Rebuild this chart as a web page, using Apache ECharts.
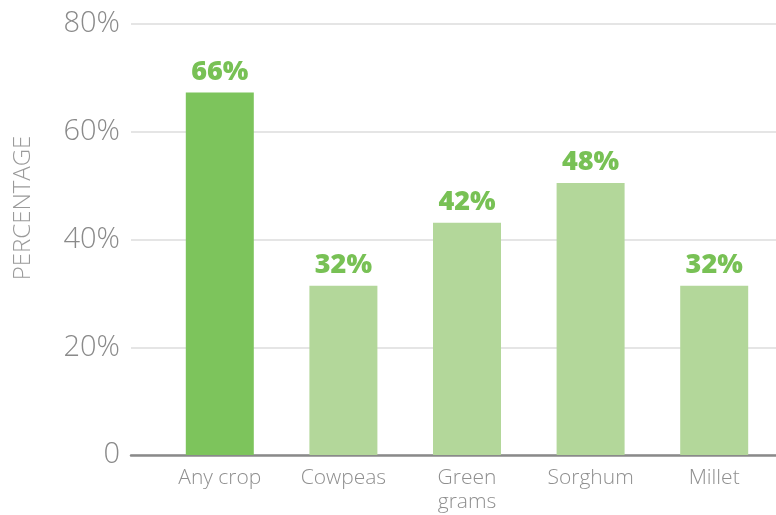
<!DOCTYPE html>
<html><head><meta charset="utf-8">
<script src="https://cdn.jsdelivr.net/npm/echarts@6/dist/echarts.min.js"></script>
<style>html,body{margin:0;padding:0;background:#fff;}#c{width:776px;height:515px;}</style>
</head><body><div id="c"></div>
<script>
var categories = ['Any crop', 'Cowpeas', 'Green\ngrams', 'Sorghum', 'Millet'];
var barValues = [67.3, 31.4, 43.1, 50.5, 31.4];
var barLabels = ['66%', '32%', '42%', '48%', '32%'];
var highlight = [true, false, false, false, false];
var yTicks = [0, 20, 40, 60, 80];
var yTitle = 'PERCENTAGE';

var chart = echarts.init(document.getElementById('c'));
var yMin = yTicks[0], yMax = yTicks[yTicks.length - 1], yStep = yTicks[1] - yTicks[0];
chart.setOption({
  animation: false,
  graphic: [{
    type: 'text', x: 11, y: 208, rotation: Math.PI / 2,
    style: { text: yTitle, fill: '#9a9a9a', font: '300 24px "Open Sans"', align: 'center', verticalAlign: 'top' }
  }],
  grid: [
    { left: 131, right: 0, top: 24, bottom: 60 },
    { left: 158, right: 0, top: 24, bottom: 60 }
  ],
  xAxis: [
    { gridIndex: 0, type: 'category', data: [''], axisLine: { lineStyle: { color: '#8a8a8a', width: 2.5 } },
      axisTick: { show: false }, axisLabel: { show: false } },
    { gridIndex: 1, type: 'category', data: categories, axisLine: { show: false }, axisTick: { show: false },
      axisLabel: { color: '#8f8f8f', fontFamily: 'Open Sans', fontWeight: 300, fontSize: 21, margin: 11, lineHeight: 24 } }
  ],
  yAxis: [
    { gridIndex: 0, type: 'value', min: yMin, max: yMax, interval: yStep,
      axisLine: { show: false }, axisTick: { show: false },
      axisLabel: { color: '#8a8a8a', fontFamily: 'Open Sans', fontWeight: 300, fontSize: 29, margin: 11,
        formatter: function (v) { return v === 0 ? '0' : v + '%'; } },
      splitLine: { lineStyle: { color: '#dcdcdc', width: 1.5 } } },
    { gridIndex: 1, type: 'value', min: yMin, max: yMax, interval: yStep, show: false, splitLine: { show: false } }
  ],
  series: [{
    type: 'bar', xAxisIndex: 1, yAxisIndex: 1, barWidth: 68,
    data: barValues.map(function (v, i) {
      return { value: v, itemStyle: { color: highlight[i] ? '#7dc45c' : '#b3d79a' } };
    }),
    label: { show: true, position: 'top', distance: 7, color: '#78c155', fontFamily: 'Open Sans', fontWeight: 800, fontSize: 27,
      formatter: function (p) { return barLabels[p.dataIndex]; } }
  }]
});
</script></body></html>
